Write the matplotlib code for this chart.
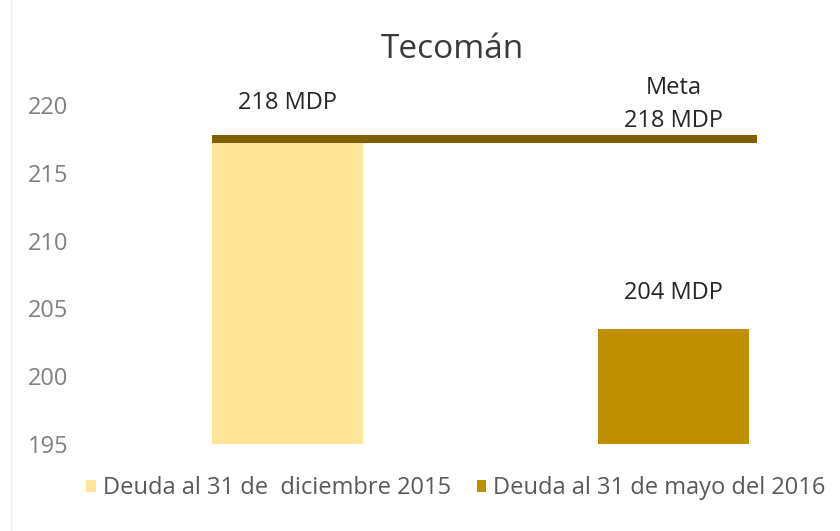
import matplotlib
matplotlib.use("Agg")
import matplotlib.pyplot as plt
from matplotlib.patches import Patch
from matplotlib.lines import Line2D

plt.rcParams["font.family"] = ["Open Sans", "DejaVu Sans"]

# Deuda de Tecomán (millones de pesos)
categorias = ["Deuda al 31 de  diciembre 2015", "Deuda al 31 de mayo del 2016"]
deuda = [217.5, 203.5]
etiquetas = ["218 MDP", "204 MDP"]
meta = 217.5
meta_etiqueta = "218 MDP"
y_ticks = [195, 200, 205, 210, 215, 220]

colores = ["#FFE699", "#BF8F00"]
color_meta = "#7F6000"
ancho = 0.39

fig = plt.figure(figsize=(8.4, 5.31), dpi=100)
ax = fig.add_axes([0.1125, 0.1638, 0.841, 0.6384])

x = list(range(len(deuda)))
ax.bar(x, [d - 195 for d in deuda], bottom=195, width=ancho, color=colores, zorder=2)
ax.hlines(meta, -ancho / 2, x[-1] + ancho / 2 + 0.02, color=color_meta, linewidth=5.8, zorder=3)

for xi, d, t in zip(x, deuda, etiquetas):
    ax.annotate(t, (xi, d), xytext=(0, 26), textcoords="offset points",
                ha="center", va="center", fontsize=17, color="#262626")

ax.annotate(meta_etiqueta, (x[-1], meta), xytext=(0, 13), textcoords="offset points",
            ha="center", va="center", fontsize=17, color="#262626")
ax.annotate("Meta", (x[-1], meta), xytext=(0, 37), textcoords="offset points",
            ha="center", va="center", fontsize=17, color="#262626")

ax.set_xlim(-0.5, 1.33)
ax.set_ylim(195, 220)
ax.set_yticks(y_ticks)
ax.set_xticks([])
ax.tick_params(axis="y", length=0, pad=19, labelsize=17, labelcolor="#808080")
for s in ax.spines.values():
    s.set_visible(False)

fig.text(452 / 840, 1 - 50 / 531, "Tecomán", ha="center", va="center",
         fontsize=24, color="#3a3a3a")

handles = [Patch(facecolor=c, edgecolor="none") for c in colores]
fig.legend(handles, categorias, loc="center", ncol=2, frameon=False,
           bbox_to_anchor=(456 / 840, 1 - 488 / 531), fontsize=17,
           labelcolor="#595959", handlelength=0.4, handleheight=0.4,
           handletextpad=0.3, columnspacing=1.1)

fig.add_artist(Line2D([11 / 840, 11 / 840], [0, 1], color="#f0f0f0", linewidth=1))

fig.savefig("out.png", dpi=100)
